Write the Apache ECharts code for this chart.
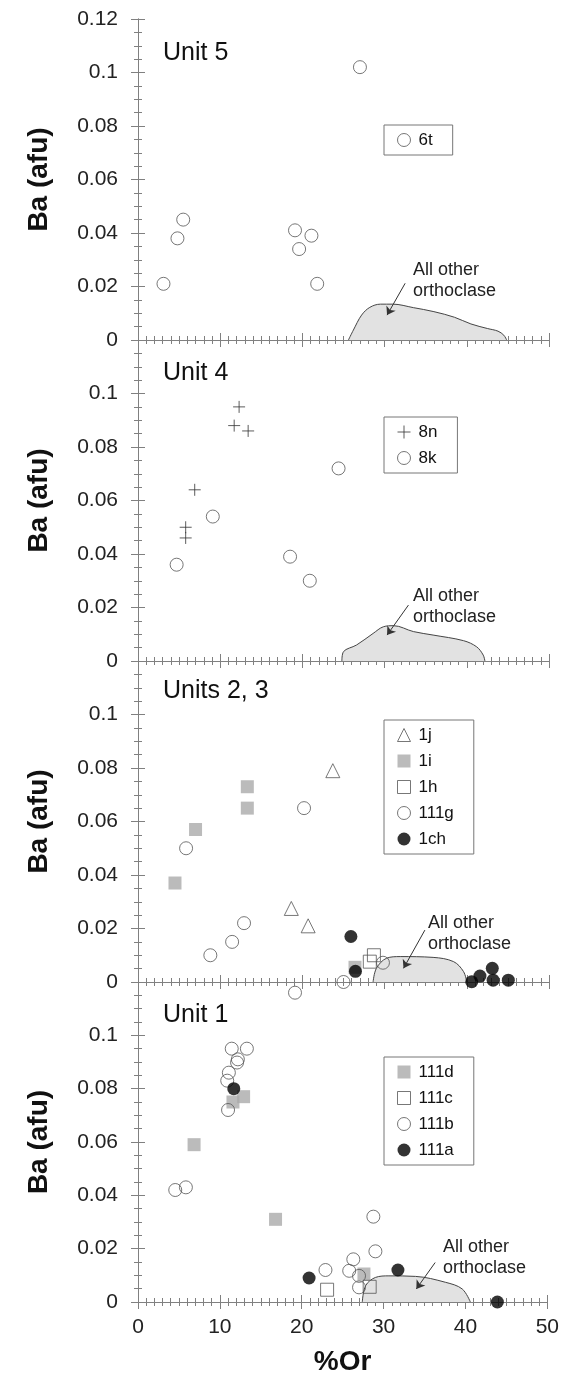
<!DOCTYPE html>
<html>
<head>
<meta charset="utf-8">
<script src="https://cdn.jsdelivr.net/npm/echarts@6/dist/echarts.min.js"></script>
<style>html,body{margin:0;background:#fff}#chart{width:562px;height:1377px}</style>
</head>
<body>
<div id="chart"></div>
<script>
// values: [%Or, Ba (afu)]
const xTicks = [0, 10, 20, 30, 40, 50];
const yTicks = [0, 0.02, 0.04, 0.06, 0.08, 0.1, 0.12];

// Unit 5
const u5_6t = [[3.1, 0.021], [4.8, 0.038], [5.5, 0.045], [19.1, 0.041], [19.6, 0.034], [21.1, 0.039], [21.8, 0.021], [27.0, 0.102]];
const region5 = [[25.6, 0], [26.2, 0.0037], [27.2, 0.0093], [28.2, 0.0122], [29.5, 0.0134], [31, 0.0134], [33.5, 0.0121], [36, 0.0106], [38.5, 0.0085], [40.5, 0.006], [42.5, 0.0043], [43.8, 0.0033], [44.5, 0.0018], [44.85, 0]];
const arrow5 = [[32.5, 0.0212], [30.3, 0.0093]];

// Unit 4
const u4_8n = [[12.3, 0.095], [11.7, 0.088], [13.4, 0.086], [6.9, 0.064], [5.8, 0.05], [5.8, 0.046]];
const u4_8k = [[4.7, 0.036], [9.1, 0.054], [18.5, 0.039], [20.9, 0.030], [24.4, 0.072]];
const region4 = [[24.8, 0], [25.0, 0.0035], [26.6, 0.006], [28.6, 0.0103], [29.85, 0.0128], [31.1, 0.0132], [33.5, 0.011], [35.9, 0.0097], [39.6, 0.0076], [41.2, 0.0053], [42, 0.0022], [42.2, 0]];
const arrow4 = [[32.9, 0.0209], [30.3, 0.0097]];

// Units 2, 3
const u23_1j = [[23.7, 0.079], [18.65, 0.0275], [20.7, 0.021]];
const u23_1i = [[13.3, 0.073], [13.3, 0.065], [7.0, 0.057], [4.5, 0.037], [26.4, 0.0055]];
const u23_1h = [[28.7, 0.010], [28.2, 0.0076]];
const u23_111g = [[20.2, 0.065], [5.85, 0.050], [12.9, 0.022], [11.45, 0.015], [8.8, 0.010], [29.8, 0.0072], [25.0, 0], [19.1, -0.004]];
const u23_1ch = [[25.9, 0.017], [26.45, 0.004], [40.6, 0.0001], [41.6, 0.0022], [43.1, 0.0051], [43.2, 0.0007], [45.05, 0.0007]];
const region23 = [[28.6, 0], [29.0, 0.0051], [30.25, 0.0089], [31.9, 0.0095], [35.9, 0.0092], [38.4, 0.0076], [39.6, 0.0039], [40, 0]];
const arrow23 = [[34.9, 0.0194], [32.3, 0.0051]];

// Unit 1
const u1_111d = [[11.6, 0.075], [12.9, 0.077], [6.85, 0.059], [16.8, 0.031], [27.6, 0.0105]];
const u1_111c = [[23.1, 0.0046], [28.3, 0.0057]];
const u1_111b = [[11.45, 0.095], [13.3, 0.095], [12.2, 0.091], [12.1, 0.0898], [11.1, 0.086], [10.9, 0.083], [11.0, 0.072], [4.55, 0.042], [5.85, 0.043], [28.75, 0.032], [29.0, 0.019], [26.3, 0.016], [22.9, 0.012], [25.8, 0.0117], [27.0, 0.0098], [27.0, 0.0055]];
const u1_111a = [[11.7, 0.080], [20.9, 0.009], [31.75, 0.012], [43.9, 0]];
const region1 = [[27.4, 0], [27.8, 0.0061], [29.0, 0.0092], [30.65, 0.0098], [33.9, 0.0096], [37.55, 0.0074], [39.6, 0.0049], [40.6, 0]];
const arrow1 = [[36.3, 0.0148], [34.0, 0.0049]];

const FONT = "'Liberation Sans', Arial, sans-serif";
const AXIS = "#808080";
const GRID_TOP = [19, 340, 661, 982];
const GRID_H = 321;

const markStyles = {
  openCircle: { symbol: "circle", symbolSize: 13, itemStyle: { color: "transparent", borderColor: "#555", borderWidth: 1 } },
  cross: { symbol: "path://M0,6H12M6,0V12", symbolSize: 12, itemStyle: { color: "transparent", borderColor: "#333", borderWidth: 1 } },
  openTriangle: { symbol: "triangle", symbolSize: 14, itemStyle: { color: "transparent", borderColor: "#555", borderWidth: 1 } },
  graySquare: { symbol: "rect", symbolSize: 13, itemStyle: { color: "#aaaaaa", borderWidth: 0 } },
  openSquare: { symbol: "rect", symbolSize: 13, itemStyle: { color: "transparent", borderColor: "#555", borderWidth: 1 } },
  blackCircle: { symbol: "circle", symbolSize: 13, itemStyle: { color: "#000", borderWidth: 0 } }
};

const panels = [
  { title: "Unit 5", titleTop: 41, legendTop: 125, note: [413, 260], region: region5, arrow: arrow5,
    sets: [["6t", u5_6t, "openCircle"]] },
  { title: "Unit 4", titleTop: 361, legendTop: 417, note: [413, 586], region: region4, arrow: arrow4,
    sets: [["8n", u4_8n, "cross"], ["8k", u4_8k, "openCircle"]] },
  { title: "Units 2, 3", titleTop: 679, legendTop: 720, note: [428, 913], region: region23, arrow: arrow23,
    sets: [["1j", u23_1j, "openTriangle"], ["1i", u23_1i, "graySquare"], ["1h", u23_1h, "openSquare"], ["111g", u23_111g, "openCircle"], ["1ch", u23_1ch, "blackCircle"]] },
  { title: "Unit 1", titleTop: 1003, legendTop: 1057, note: [443, 1237], region: region1, arrow: arrow1,
    sets: [["111d", u1_111d, "graySquare"], ["111c", u1_111c, "openSquare"], ["111b", u1_111b, "openCircle"], ["111a", u1_111a, "blackCircle"]] }
];

function fmt(v) {
  return String(+Number(v).toFixed(3));
}

// ticks point into the plot: negative length flips them
function xAxisFor(i, top) {
  const last = i === panels.length - 1 && !top;
  return {
    gridIndex: i, type: "value", position: top ? "top" : "bottom",
    min: xTicks[0], max: xTicks[xTicks.length - 1], interval: xTicks[1] - xTicks[0],
    name: last ? "%Or" : "", nameLocation: "middle", nameGap: 46,
    nameTextStyle: { fontFamily: FONT, fontSize: 28, fontWeight: "bold", color: "#111" },
    axisLine: { show: true, lineStyle: { color: AXIS, width: 1 } },
    axisTick: { show: true, inside: false, length: -7, lineStyle: { color: AXIS } },
    minorTick: { show: true, splitNumber: 10, length: -4, lineStyle: { color: AXIS } },
    splitLine: { show: false },
    axisLabel: { show: last, margin: 15, fontFamily: FONT, fontSize: 21, color: "#222", formatter: fmt }
  };
}

function yAxisFor(i, right) {
  return {
    gridIndex: i, type: "value", position: right ? "right" : "left",
    min: yTicks[0], max: yTicks[yTicks.length - 1], interval: yTicks[1] - yTicks[0],
    name: right ? "" : "Ba (afu)", nameLocation: "middle", nameGap: 85, nameRotate: 90,
    nameTextStyle: { fontFamily: FONT, fontSize: 28, fontWeight: "bold", color: "#111" },
    axisLine: { show: true, lineStyle: { color: AXIS, width: 1 } },
    axisTick: { show: true, inside: false, length: -7, lineStyle: { color: AXIS } },
    minorTick: { show: true, splitNumber: 4, length: -4, lineStyle: { color: AXIS } },
    splitLine: { show: false },
    axisLabel: {
      show: !right, margin: 20, fontFamily: FONT, fontSize: 21, color: "#222",
      formatter: v => (i > 0 && v > 0.119 ? "" : fmt(v))
    }
  };
}

const grid = [], xAxis = [], yAxis = [], series = [], legend = [], title = [];

panels.forEach((p, i) => {
  grid.push({ left: 138, width: 411, top: GRID_TOP[i], height: GRID_H });
  xAxis.push(xAxisFor(i, false), xAxisFor(i, true));
  yAxis.push(yAxisFor(i, false), yAxisFor(i, true));

  series.push({
    type: "line", name: "region" + i, xAxisIndex: 2 * i, yAxisIndex: 2 * i,
    data: p.region, smooth: 0.35, showSymbol: false, symbol: "none", silent: true, z: 1,
    lineStyle: { color: "#444", width: 1 },
    areaStyle: { color: "#e2e2e2", opacity: 1 },
    markLine: {
      silent: true, symbol: ["none", "arrow"], symbolSize: 8,
      lineStyle: { color: "#333", width: 1, type: "solid" }, label: { show: false },
      data: [[{ coord: p.arrow[0] }, { coord: p.arrow[1] }]]
    }
  });

  p.sets.forEach(([name, data, kind]) => {
    const st = markStyles[kind];
    series.push({
      type: "scatter", name, xAxisIndex: 2 * i, yAxisIndex: 2 * i, data, clip: false, z: 3,
      symbol: st.symbol, symbolSize: st.symbolSize, itemStyle: st.itemStyle
    });
  });

  legend.push({
    left: 384, top: p.legendTop, orient: "vertical", selectedMode: false,
    backgroundColor: "#fff", borderColor: "#777", borderWidth: 1, borderRadius: 0,
    padding: [6, 20, 6, 13], itemWidth: 13, itemHeight: 13, itemGap: 8,
    textStyle: { fontFamily: FONT, fontSize: 17, color: "#111", lineHeight: 18, padding: [0, 0, 0, 3] },
    data: p.sets.map(([name, , kind]) => ({ name, icon: markStyles[kind].symbol, itemStyle: markStyles[kind].itemStyle }))
  });

  title.push({
    text: p.title, left: 163, top: p.titleTop, padding: 0,
    textStyle: { fontFamily: FONT, fontSize: 25, fontWeight: "normal", color: "#111" }
  });
  title.push({
    text: "All other\northoclase", left: p.note[0], top: p.note[1], padding: 0,
    textStyle: { fontFamily: FONT, fontSize: 18, fontWeight: "normal", color: "#222", lineHeight: 21 }
  });
});

const chart = echarts.init(document.getElementById("chart"), null, { renderer: "canvas" });
chart.setOption({ animation: false, backgroundColor: "#fff", grid, xAxis, yAxis, series, legend, title });
</script>
</body>
</html>
